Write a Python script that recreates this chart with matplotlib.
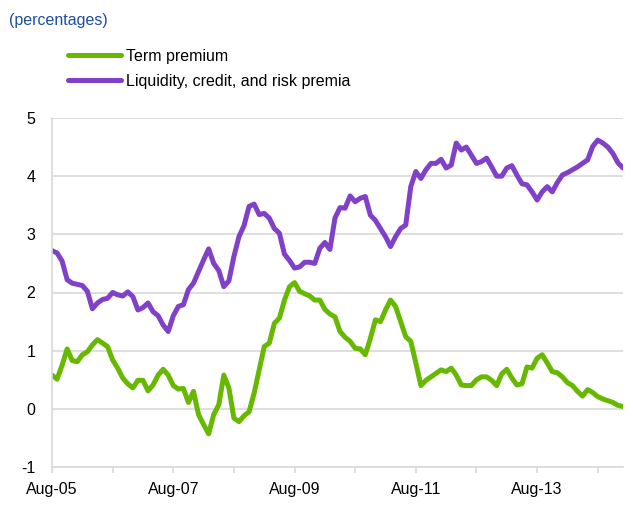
import matplotlib
matplotlib.use("Agg")
import matplotlib.pyplot as plt
import numpy as np

# monthly, Aug-05 .. Jan-15
term_premium = [
    0.58, 0.51, 0.75, 1.03, 0.83, 0.81, 0.93, 0.98, 1.10, 1.19,
    1.13, 1.07, 0.84, 0.70, 0.53, 0.43, 0.36, 0.49, 0.49, 0.31,
    0.41, 0.58, 0.68, 0.58, 0.40, 0.34, 0.35, 0.11, 0.30, -0.10,
    -0.27, -0.43, -0.10, 0.07, 0.58, 0.36, -0.16, -0.22, -0.12, -0.05,
    0.27, 0.67, 1.07, 1.13, 1.47, 1.56, 1.87, 2.10, 2.17, 2.02,
    1.98, 1.94, 1.87, 1.87, 1.71, 1.63, 1.58, 1.33, 1.23, 1.16,
    1.04, 1.03, 0.93, 1.21, 1.53, 1.50, 1.70, 1.87, 1.76, 1.50,
    1.24, 1.16, 0.79, 0.40, 0.49, 0.55, 0.61, 0.67, 0.64, 0.70,
    0.58, 0.41, 0.40, 0.40, 0.50, 0.55, 0.55, 0.49, 0.40, 0.60,
    0.68, 0.53, 0.41, 0.43, 0.72, 0.70, 0.87, 0.93, 0.79, 0.64,
    0.62, 0.55, 0.45, 0.40, 0.30, 0.22, 0.33, 0.28, 0.21, 0.17,
    0.14, 0.11, 0.06, 0.04,
]
risk_premia = [
    2.72, 2.68, 2.54, 2.22, 2.16, 2.14, 2.12, 2.02, 1.72, 1.82,
    1.88, 1.90, 2.00, 1.96, 1.94, 2.01, 1.93, 1.70, 1.74, 1.82,
    1.67, 1.60, 1.44, 1.33, 1.60, 1.76, 1.79, 2.05, 2.16, 2.36,
    2.56, 2.75, 2.50, 2.38, 2.10, 2.20, 2.62, 2.96, 3.15, 3.48,
    3.52, 3.34, 3.36, 3.28, 3.10, 3.02, 2.66, 2.55, 2.42, 2.44,
    2.52, 2.52, 2.50, 2.76, 2.86, 2.74, 3.28, 3.46, 3.45, 3.66,
    3.56, 3.62, 3.65, 3.33, 3.24, 3.10, 2.96, 2.79, 2.96, 3.10,
    3.16, 3.82, 4.08, 3.96, 4.11, 4.22, 4.22, 4.29, 4.14, 4.19,
    4.57, 4.45, 4.50, 4.36, 4.22, 4.25, 4.31, 4.16, 4.00, 4.00,
    4.14, 4.18, 4.02, 3.87, 3.85, 3.73, 3.59, 3.73, 3.82, 3.73,
    3.89, 4.02, 4.06, 4.11, 4.16, 4.22, 4.28, 4.51, 4.62, 4.57,
    4.50, 4.39, 4.23, 4.14,
]
series_names = ["Term premium", "Liquidity, credit, and risk premia"]
series_colors = ["#66b800", "#8040c8"]
year_labels = ["Aug-05", "", "Aug-07", "", "Aug-09", "", "Aug-11", "", "Aug-13", ""]
y_ticks = [-1, 0, 1, 2, 3, 4, 5]

plt.rcParams["font.family"] = ["Liberation Sans", "DejaVu Sans"]

W, H = 633, 508
fig = plt.figure(figsize=(W / 100, H / 100), dpi=100)
ax = fig.add_axes([52 / W, 1 - 467 / H, 571 / W, 349 / H])

months = np.arange(len(term_premium))
for vals, name, col in zip([term_premium, risk_premia], series_names, series_colors):
    ax.plot(months, vals, color=col, lw=3.6, label=name, solid_capstyle="round",
            solid_joinstyle="round")

ax.set_xlim(0, len(months) - 1)
ax.set_ylim(-1, 5)
ax.set_yticks(y_ticks)
ax.set_yticklabels([str(v) for v in y_ticks])
ax.set_xticks(np.arange(0, len(months), 12))
ax.set_xticklabels(year_labels)
ax.yaxis.grid(True, color="#d9d9d9", lw=1.2)
ax.set_axisbelow(True)
for s in ["top", "right"]:
    ax.spines[s].set_visible(False)
for s in ["left", "bottom"]:
    ax.spines[s].set_color("#d9d9d9")
    ax.spines[s].set_linewidth(1.2)
ax.tick_params(axis="y", length=0, pad=12, labelsize=11.5, labelcolor="#000000")
ax.tick_params(axis="x", length=4, color="#d9d9d9", width=1.2, pad=7,
               labelsize=11.5, labelcolor="#000000")

fig.text(9 / W, 1 - 20 / H, "(percentages)", color="#1f4e9c", fontsize=11.5,
         va="center", ha="left")

ax.legend(loc="upper left", bbox_to_anchor=(68 / W, 1 - 49 / H),
          bbox_transform=fig.transFigure, frameon=False, fontsize=11.5,
          handlelength=3.3, handletextpad=0.3, labelspacing=0.62,
          borderpad=0, borderaxespad=0)

fig.savefig("out.png", dpi=100)
